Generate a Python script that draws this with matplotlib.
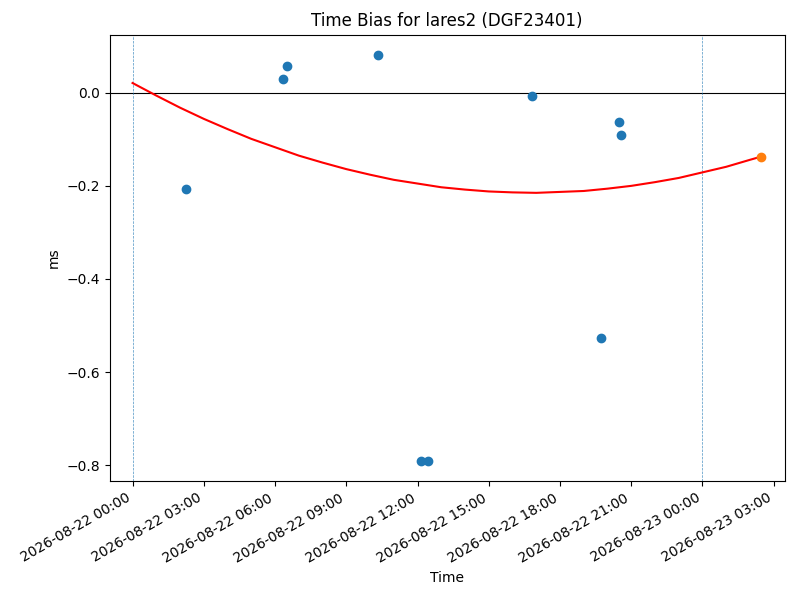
import matplotlib
matplotlib.use("Agg")
import matplotlib.pyplot as plt
import matplotlib.dates as mdates
import pandas as pd

# observed time bias points
obs_times = ["2026-08-22 02:14", "2026-08-22 06:20", "2026-08-22 06:29",
             "2026-08-22 10:21", "2026-08-22 12:09", "2026-08-22 12:27",
             "2026-08-22 16:50", "2026-08-22 19:44", "2026-08-22 20:29",
             "2026-08-22 20:34"]
obs_bias = [-0.207, 0.030, 0.058, 0.081, -0.791, -0.791,
            -0.007, -0.526, -0.063, -0.091]

# predicted point
pred_time = ["2026-08-23 02:29"]
pred_bias = [-0.137]

# fitted curve
fit_times = ["2026-08-22 00:00", "2026-08-22 01:00", "2026-08-22 02:00",
             "2026-08-22 03:00", "2026-08-22 04:00", "2026-08-22 05:00",
             "2026-08-22 06:00", "2026-08-22 07:00", "2026-08-22 08:00",
             "2026-08-22 09:00", "2026-08-22 10:00", "2026-08-22 11:00",
             "2026-08-22 12:00", "2026-08-22 13:00", "2026-08-22 14:00",
             "2026-08-22 15:00", "2026-08-22 16:00", "2026-08-22 17:00",
             "2026-08-22 18:00", "2026-08-22 19:00", "2026-08-22 20:00",
             "2026-08-22 21:00", "2026-08-22 22:00", "2026-08-22 23:00",
             "2026-08-23 00:00", "2026-08-23 01:00", "2026-08-23 02:00",
             "2026-08-23 02:29"]
fit_bias = [0.021, -0.006, -0.032, -0.056, -0.078, -0.099, -0.117,
            -0.135, -0.150, -0.164, -0.176, -0.187, -0.195, -0.203,
            -0.208, -0.212, -0.214, -0.215, -0.213, -0.211, -0.206,
            -0.200, -0.192, -0.183, -0.171, -0.159, -0.144, -0.137]

day_marks = ["2026-08-22 00:00", "2026-08-23 00:00"]
x_range = ["2026-08-21 23:02", "2026-08-23 03:28"]

fig, ax = plt.subplots(figsize=(8, 6), dpi=100)
fig.subplots_adjust(left=0.137, right=0.981, top=0.942, bottom=0.198)

ax.axhline(0, color='black', linewidth=0.8)
for d in day_marks:
    ax.axvline(pd.Timestamp(d), color='tab:blue', linestyle='--',
               linewidth=0.5, alpha=0.8)

ax.scatter(pd.to_datetime(obs_times), obs_bias, color='C0', zorder=3)
ax.plot(pd.to_datetime(fit_times), fit_bias, color='red', linewidth=1.5)
ax.scatter(pd.to_datetime(pred_time), pred_bias, color='C1', zorder=3)

ax.set_xlim(pd.Timestamp(x_range[0]), pd.Timestamp(x_range[1]))
ax.xaxis.set_major_locator(mdates.HourLocator(byhour=[0, 3, 6, 9, 12, 15, 18, 21]))
ax.xaxis.set_major_formatter(mdates.DateFormatter('%Y-%m-%d %H:%M'))
for lbl in ax.get_xticklabels():
    lbl.set_rotation(30)
    lbl.set_ha('right')

ax.set_title('Time Bias for lares2 (DGF23401)')
ax.set_xlabel('Time')
ax.set_ylabel('ms')

fig.savefig('out.png', dpi=100)
